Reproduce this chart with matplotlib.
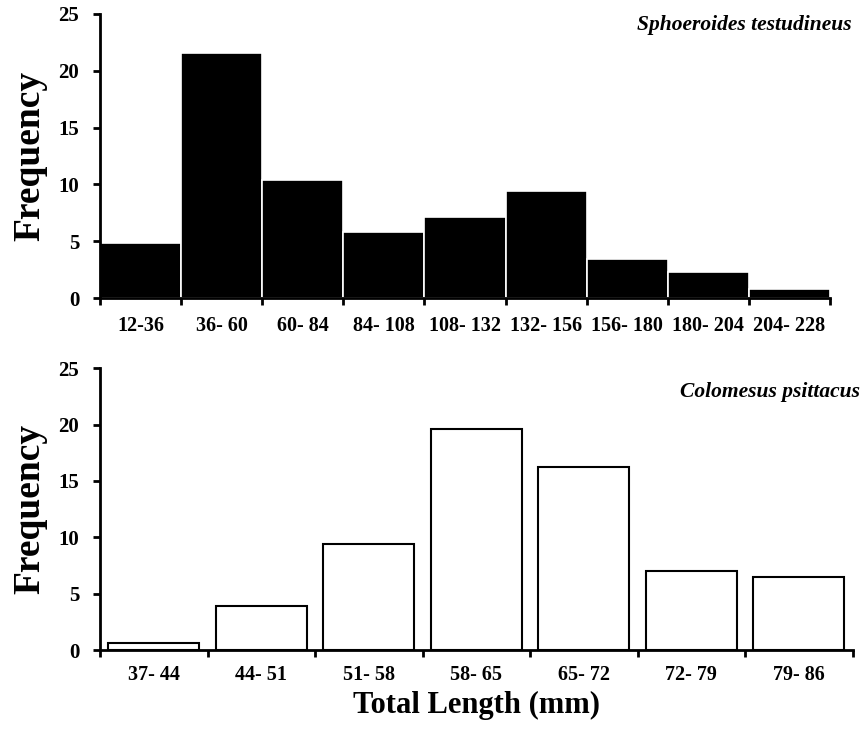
import numpy as np
import matplotlib.pyplot as plt

plt.rcParams['font.family'] = ['Liberation Serif', 'DejaVu Serif']
plt.rcParams['font.weight'] = 'bold'

# Sphoeroides testudineus
st_classes = ["12-36", "36- 60", "60- 84", "84- 108", "108- 132", "132- 156",
              "156- 180", "180- 204", "204- 228"]
st_freq = [4.8, 21.6, 10.4, 5.8, 7.1, 9.4, 3.4, 2.3, 0.8]

# Colomesus psittacus
cp_classes = ["37- 44", "44- 51", "51- 58", "58- 65", "65- 72", "72- 79", "79- 86"]
cp_freq = [0.6, 3.9, 9.4, 19.6, 16.2, 7.0, 6.5]

fig = plt.figure(figsize=(8.65, 7.34), dpi=100)
ax1 = fig.add_axes([0.1156, 0.594, 0.844, 0.387])
ax2 = fig.add_axes([0.1156, 0.1144, 0.870, 0.384])


def style(ax, n, labels, pad):
    ax.set_xlim(0, n)
    ax.set_ylim(0, 25)
    ax.set_yticks(np.arange(0, 26, 5))
    ax.set_xticks(np.arange(n) + 0.5)
    ax.set_xticklabels(labels, fontsize=14.5, fontweight='bold')
    ax.set_xticks(np.arange(n + 1), minor=True)
    ax.tick_params(axis='x', which='major', length=0, pad=pad)
    ax.tick_params(axis='x', which='minor', length=5, width=2, direction='out')
    ax.tick_params(axis='y', length=5, width=2, labelsize=15, pad=10)
    for t in ax.get_yticklabels():
        t.set_fontweight('bold')
    for s in ['top', 'right']:
        ax.spines[s].set_visible(False)
    for s in ['left', 'bottom']:
        ax.spines[s].set_linewidth(2)
    ax.set_ylabel('Frequency', fontsize=27, fontweight='bold', labelpad=8)


x1 = np.arange(len(st_freq)) + 0.5
ax1.bar(x1, st_freq, width=1.0, color='black', edgecolor='white', linewidth=1.2)
style(ax1, len(st_classes), st_classes, 13)
ax1.text(1.03, 0.96, 'Sphoeroides testudineus', transform=ax1.transAxes,
         ha='right', va='center', fontsize=15.5, fontstyle='italic', fontweight='bold')

x2 = np.arange(len(cp_freq)) + 0.5
ax2.bar(x2, cp_freq, width=0.85, color='white', edgecolor='black', linewidth=1.5)
style(ax2, len(cp_classes), cp_classes, 11)
ax2.text(1.01, 0.915, 'Colomesus psittacus', transform=ax2.transAxes,
         ha='right', va='center', fontsize=15.5, fontstyle='italic', fontweight='bold')
ax2.set_xlabel('Total Length (mm)', fontsize=22, fontweight='bold', labelpad=4)

plt.savefig('out.png', dpi=100)
